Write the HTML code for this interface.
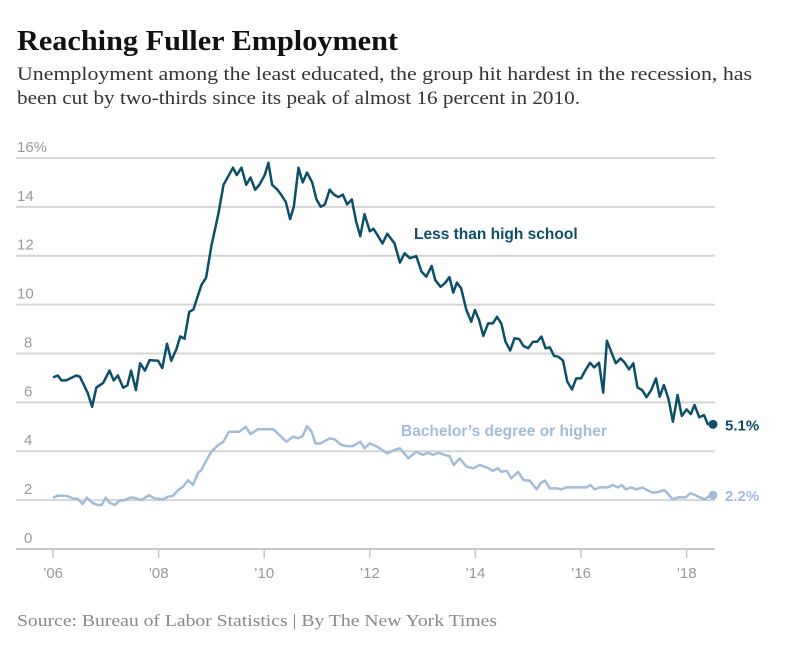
<!DOCTYPE html>
<html><head><meta charset="utf-8"><style>
html,body{margin:0;padding:0;background:#fff;}
svg{display:block;}
</style></head><body>
<svg id="chart" width="787" height="657" viewBox="0 0 787 657" xmlns="http://www.w3.org/2000/svg">
<text x="17" y="50" font-family="Liberation Serif, serif" font-weight="bold" font-size="29" fill="#111" textLength="381" lengthAdjust="spacingAndGlyphs">Reaching Fuller Employment</text>
<text x="17" y="80" font-family="Liberation Serif, serif" font-size="19" fill="#333" textLength="735" lengthAdjust="spacingAndGlyphs">Unemployment among the least educated, the group hit hardest in the recession, has</text>
<text x="17" y="104" font-family="Liberation Serif, serif" font-size="19" fill="#333" textLength="563" lengthAdjust="spacingAndGlyphs">been cut by two-thirds since its peak of almost 16 percent in 2010.</text>
<g id="grid"></g>
<g id="axes"></g>
<g id="series"></g>
<text x="414" y="239" font-family="Liberation Sans, sans-serif" font-weight="bold" font-size="15.5" fill="#0c4f66">Less than high school</text>
<text x="401" y="436" font-family="Liberation Sans, sans-serif" font-weight="bold" font-size="15.5" fill="#a3bcd8">Bachelor’s degree or higher</text>
<text x="17" y="626" font-family="Liberation Serif, serif" font-size="17" fill="#888" textLength="480" lengthAdjust="spacingAndGlyphs">Source: Bureau of Labor Statistics | By The New York Times</text>
</svg>
<script>
const yTicks=[0,2,4,6,8,10,12,14,16];
const xTicks=[2006,2008,2010,2012,2014,2016,2018];
const xTickLabels=["’06","’08","’10","’12","’14","’16","’18"];
const lhsDates=[2006.00,2006.09,2006.16,2006.25,2006.44,2006.51,2006.66,2006.74,2006.82,2006.95,2007.07,2007.15,2007.23,2007.33,2007.41,2007.48,2007.57,2007.65,2007.74,2007.83,2007.99,2008.07,2008.16,2008.24,2008.34,2008.41,2008.49,2008.58,2008.66,2008.81,2008.90,2009.00,2009.13,2009.23,2009.41,2009.48,2009.57,2009.66,2009.74,2009.83,2009.91,2010.01,2010.08,2010.15,2010.25,2010.32,2010.41,2010.49,2010.56,2010.65,2010.73,2010.81,2010.91,2010.99,2011.07,2011.15,2011.24,2011.32,2011.41,2011.49,2011.57,2011.66,2011.74,2011.82,2011.90,2012.00,2012.07,2012.16,2012.24,2012.33,2012.47,2012.57,2012.66,2012.76,2012.88,2012.98,2013.07,2013.17,2013.24,2013.34,2013.42,2013.51,2013.58,2013.65,2013.73,2013.83,2013.92,2013.99,2014.07,2014.15,2014.24,2014.33,2014.41,2014.49,2014.57,2014.66,2014.74,2014.83,2014.91,2015.00,2015.09,2015.17,2015.25,2015.33,2015.41,2015.49,2015.57,2015.66,2015.74,2015.83,2015.91,2016.00,2016.08,2016.17,2016.25,2016.34,2016.42,2016.49,2016.66,2016.75,2016.83,2016.91,2016.99,2017.07,2017.16,2017.24,2017.33,2017.42,2017.49,2017.57,2017.66,2017.74,2017.83,2017.91,2018.00,2018.08,2018.15,2018.24,2018.33,2018.41,2018.50];
const lhsValues=[7.02,7.1,6.9,6.9,7.1,7.05,6.38,5.82,6.6,6.8,7.3,6.9,7.1,6.6,6.7,7.3,6.5,7.6,7.3,7.73,7.7,7.4,8.4,7.7,8.2,8.7,8.6,9.7,9.8,10.8,11.1,12.4,13.7,14.9,15.6,15.3,15.6,14.9,15.2,14.7,14.9,15.3,15.8,14.9,14.7,14.5,14.2,13.5,14.0,15.6,15.0,15.4,15.0,14.3,14.0,14.1,14.7,14.5,14.4,14.5,14.1,14.3,13.4,12.8,13.7,13.0,13.1,12.8,12.5,12.9,12.5,11.72,12.1,11.9,11.99,11.35,11.14,11.58,11.0,10.73,10.87,11.12,10.49,10.9,10.67,9.78,9.3,9.78,9.37,8.72,9.23,9.23,9.5,9.23,8.48,8.12,8.62,8.59,8.31,8.21,8.48,8.48,8.69,8.21,8.25,7.9,7.87,7.71,6.85,6.53,6.98,6.98,7.3,7.62,7.43,7.62,6.4,8.52,7.6,7.8,7.62,7.35,7.6,6.61,6.5,6.21,6.5,6.98,6.23,6.71,6.12,5.21,6.3,5.44,5.71,5.52,5.89,5.39,5.48,5.07];
const baDates=[2006.00,2006.09,2006.25,2006.38,2006.47,2006.56,2006.64,2006.76,2006.85,2006.92,2007.0,2007.07,2007.17,2007.26,2007.36,2007.47,2007.58,2007.67,2007.82,2007.92,2008.08,2008.18,2008.27,2008.37,2008.46,2008.56,2008.65,2008.75,2008.81,2008.91,2009.0,2009.13,2009.23,2009.33,2009.53,2009.65,2009.74,2009.88,2010.17,2010.29,2010.42,2010.55,2010.64,2010.73,2010.81,2010.90,2010.97,2011.07,2011.24,2011.33,2011.46,2011.56,2011.68,2011.82,2011.90,2012.00,2012.16,2012.33,2012.47,2012.57,2012.73,2012.88,2013.0,2013.1,2013.2,2013.3,2013.42,2013.51,2013.59,2013.70,2013.83,2013.96,2014.08,2014.21,2014.33,2014.43,2014.49,2014.59,2014.68,2014.81,2014.91,2015.03,2015.16,2015.24,2015.32,2015.41,2015.54,2015.63,2015.72,2016.1,2016.18,2016.26,2016.35,2016.51,2016.6,2016.7,2016.77,2016.85,2016.95,2017.05,2017.16,2017.27,2017.37,2017.49,2017.58,2017.65,2017.73,2017.84,2017.98,2018.07,2018.16,2018.25,2018.35,2018.41,2018.5];
const baValues=[2.1,2.18,2.18,2.07,2.05,1.84,2.1,1.87,1.8,1.8,2.1,1.9,1.8,1.98,2.0,2.11,2.07,2.0,2.2,2.07,2.03,2.14,2.17,2.41,2.55,2.82,2.62,3.14,3.23,3.64,3.98,4.26,4.39,4.8,4.8,5.0,4.7,4.9,4.9,4.66,4.39,4.6,4.53,4.62,5.03,4.8,4.32,4.32,4.53,4.49,4.26,4.21,4.21,4.39,4.12,4.32,4.16,3.91,4.05,4.12,3.71,3.98,3.85,3.94,3.85,3.94,3.85,3.8,3.44,3.71,3.37,3.3,3.44,3.34,3.2,3.3,3.16,3.2,2.89,3.16,2.82,2.8,2.44,2.71,2.8,2.48,2.48,2.44,2.52,2.52,2.62,2.44,2.52,2.52,2.62,2.52,2.62,2.44,2.52,2.44,2.52,2.39,2.3,2.35,2.41,2.25,2.03,2.11,2.11,2.28,2.21,2.11,2.03,2.14,2.18];
const lhsLast=5.1, baLast=2.2;

const NS="http://www.w3.org/2000/svg";
const X0=53,PX_YR=52.8,Y0=549,PX_UNIT=24.44;
function xs(t){return X0+(t-2006)*PX_YR;}
function ys(v){return Y0-v*PX_UNIT;}
function mk(tag,attrs,parent){const e=document.createElementNS(NS,tag);for(const k in attrs)e.setAttribute(k,attrs[k]);parent.appendChild(e);return e;}
const grid=document.getElementById('grid'),axes=document.getElementById('axes'),series=document.getElementById('series');
yTicks.forEach(v=>{
  const l=mk('line',{x1:16,x2:715,y1:ys(v),y2:ys(v),stroke:v===0?'#c8c8c8':'#d6d6d6','stroke-width':2},grid);
  
  
  const t=mk('text',{x:v>=10?17:24,y:ys(v)-6,'font-family':'Liberation Sans, sans-serif','font-size':15,fill:'#999'},axes);
  t.textContent=v===16?'16%':String(v);
  
  
});
xTicks.forEach((yr,i)=>{
  const l=mk('line',{x1:xs(yr),x2:xs(yr),y1:Y0,y2:Y0+9,stroke:'#c8c8c8','stroke-width':1.5},axes);
  
  
  const t=mk('text',{x:xs(yr),y:578,'text-anchor':'middle','font-family':'Liberation Sans, sans-serif','font-size':15,fill:'#999'},axes);
  t.textContent=xTickLabels[i];
  
  
});
function drawLine(dates,vals,color,name){
  const d=dates.map((t,i)=>(i?'L':'M')+xs(t).toFixed(1)+','+ys(vals[i]).toFixed(1)).join(' ');
  const p=mk('path',{d:d,fill:'none',stroke:color,'stroke-width':2.5,'stroke-linejoin':'round'},series);
  
  
}
drawLine(baDates,baValues,'#a3bcd8','bachelors');
drawLine(lhsDates,lhsValues,'#0c4f66','less-than-high-school');
const lastT=lhsDates[lhsDates.length-1];
const d1=mk('circle',{cx:xs(lastT),cy:ys(lhsLast),r:4.5,fill:'#0c4f66'},series);


const d2=mk('circle',{cx:xs(baDates[baDates.length-1]),cy:ys(baLast),r:4.5,fill:'#a3bcd8'},series);


const t1=mk('text',{x:725,y:ys(lhsLast)+6,'font-family':'Liberation Sans, sans-serif','font-weight':'bold','font-size':15,fill:'#0c4f66'},series);
t1.textContent=lhsLast.toFixed(1)+'%';


const t2=mk('text',{x:725,y:ys(baLast)+6,'font-family':'Liberation Sans, sans-serif','font-weight':'bold','font-size':15,fill:'#a3bcd8'},series);
t2.textContent=baLast.toFixed(1)+'%';


</script>
</body></html>
